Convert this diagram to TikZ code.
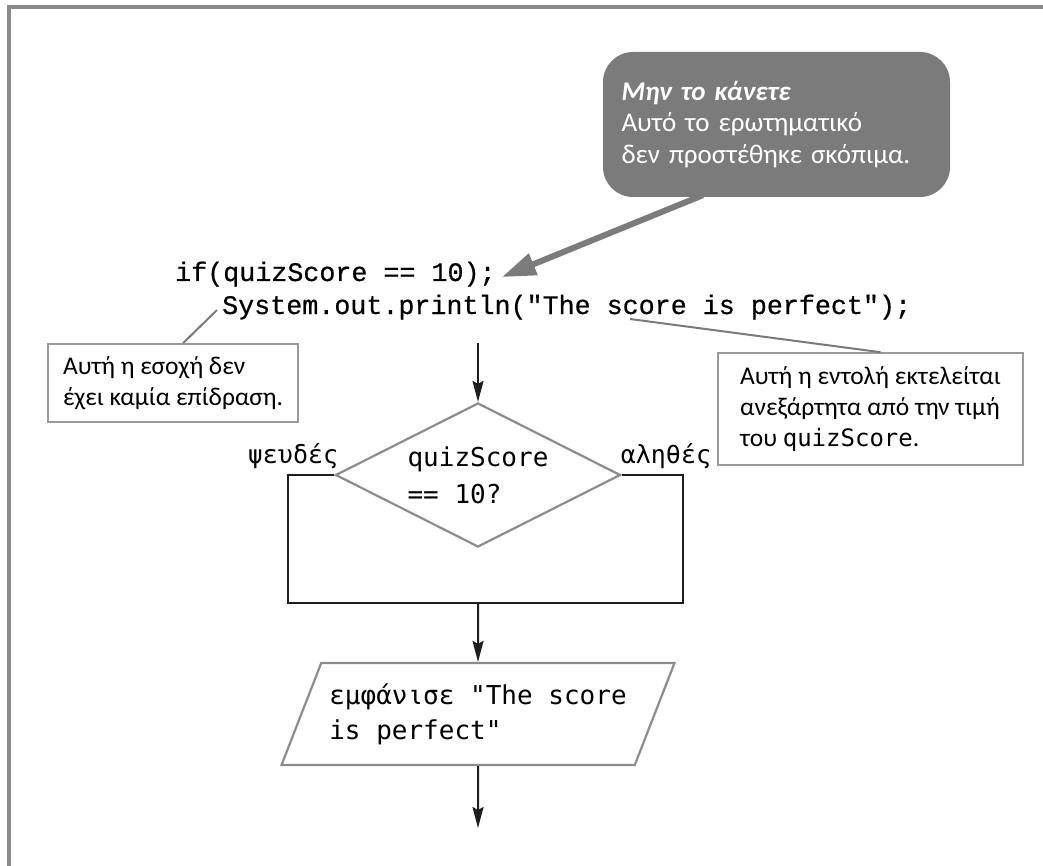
\documentclass[tikz,border=0pt]{standalone}
\usepackage{fontspec}
\setmainfont{Carlito}
\newfontfamily\codefont{Liberation Mono}[FakeBold=0.6]
\newfontfamily\flowfont{DejaVu Sans Mono}
\usetikzlibrary{shapes.geometric,arrows.meta,calc}

\definecolor{framegray}{HTML}{8A8A8A}
\definecolor{calloutgray}{HTML}{7B7B7B}
\definecolor{shapegray}{HTML}{8C8C8C}
\definecolor{notegray}{HTML}{9A9A9A}
\definecolor{leadergray}{HTML}{7A7A7A}
\definecolor{inkblack}{HTML}{1E1E1E}

\tikzset{
  callout/.style={fill=calloutgray, rounded corners=30pt, text=white, align=left,
    text width=310pt, inner sep=0pt, minimum width=347pt, minimum height=145pt,
    font=\fontsize{27}{31.5}\selectfont},
  calloutarrow/.style={draw=calloutgray, line width=6pt,
    -{Triangle[length=34pt,width=22pt]}},
  codeline/.style={inner sep=0pt, font=\codefont\fontsize{26.7}{31}\selectfont},
  note/.style={draw=notegray, line width=1.6pt, align=left, inner sep=0pt,
    font=\fontsize{25.5}{31}\selectfont},
  leader/.style={draw=leadergray, line width=2pt},
  decision/.style={diamond, aspect=2, draw=shapegray, line width=2.2pt, inner sep=0pt,
    minimum width=285pt, minimum height=144pt, align=left,
    font=\flowfont\fontsize{26}{37}\selectfont},
  iobox/.style={trapezium, trapezium left angle=57, trapezium right angle=123,
    trapezium stretches body, draw=shapegray, line width=2.2pt, inner sep=0pt,
    minimum width=393pt, minimum height=102pt, align=left,
    font=\flowfont\fontsize{26}{35}\selectfont},
  branchlabel/.style={inner sep=2pt, font=\flowfont\fontsize{25}{30}\selectfont},
  flowline/.style={draw=inkblack, line width=2pt},
  flowarrow/.style={draw=inkblack, line width=2pt,
    -{Stealth[length=21pt,width=11pt,inset=3pt]}},
}

\begin{document}
\begin{tikzpicture}[x=1pt,y=-1pt]
\useasboundingbox (0,0) rectangle (1043,866);

% page frame (top and left edges)
\draw[framegray, line width=3.5pt] (1043,7) -- (9,7) -- (9,866);

% warning callout
\node[callout] (tip) at (776.5,124.5)
  {\textbf{\textit{Μην το κάνετε}}\\Αυτό το ερωτηματικό\\δεν προστέθηκε σκόπιμα.};

% Java source lines
\node[codeline, anchor=base west] (codeA) at (175,281) {if(quizScore == 10);};
\node[codeline, anchor=base west] (codeB) at (222,314) {System.out.println("The score is perfect");};

\draw[calloutarrow] ($(tip.south west)+(100,-2)$) -- ([xshift=6pt,yshift=-3pt]codeA.east);

% side notes
\node[note, minimum width=250pt, minimum height=78pt] (leftnote) at (173,383)
  {Αυτή η εσοχή δεν\\έχει καμία επίδραση.};
\node[note, minimum width=305pt, minimum height=112pt] (rightnote) at (870.5,409)
  {Αυτή η εντολή εκτελείται\\ανεξάρτητα από την τιμή\\του {\flowfont\fontsize{24}{30}\selectfont quizScore}.};

\coordinate (indentmark) at (217,310);
\coordinate (scoremark) at (630,319);
\draw[leader] ([xshift=10pt]leftnote.north) -- (indentmark);
\draw[leader] (scoremark) -- ([xshift=10pt]rightnote.north);

% flowchart
\coordinate (entry) at (478,343);
\node[decision] (test) at (478,475) {quizScore\\== 10?};
\node[branchlabel, anchor=south east] (nolabel) at ([xshift=6pt,yshift=4pt]test.west) {ψευδές};
\node[branchlabel, anchor=south west] (yeslabel) at ([xshift=-3pt,yshift=4pt]test.east) {αληθές};

\coordinate (fl) at (288,603);
\coordinate (fr) at (683,603);
\coordinate (merge) at (478,603);
\draw[flowline] (test.west) -| (fl) -- (fr) |- (test.east);

\node[iobox] (show) at (478,714) {εμφάνισε "The score\\is perfect"};
\coordinate (exit) at (478,828);

\draw[flowarrow] (entry) -- (test.north);
\draw[flowarrow] (merge) -- (show.north);
\draw[flowarrow] (show.south) -- (exit);
\end{tikzpicture}
\end{document}
